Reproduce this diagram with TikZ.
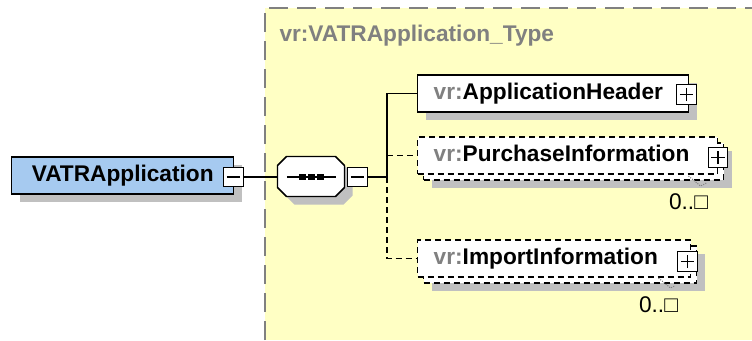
\documentclass[tikz,border=0pt]{standalone}
\usepackage{fontspec}
\setmainfont{Liberation Sans}
\usetikzlibrary{shadows}

\definecolor{schemafill}{RGB}{255,255,196}
\definecolor{rootblue}{RGB}{166,202,240}
\definecolor{shadowgray}{RGB}{192,192,192}
\definecolor{nsgray}{RGB}{128,128,128}

\tikzset{every picture/.style={line width=0.75pt}}

\begin{document}
\begin{tikzpicture}[x=0.75pt,y=0.75pt,yscale=-1,xscale=1,
  boxshadow/.style={drop shadow={shadow xshift=6pt,shadow yshift=-6pt,fill=shadowgray,opacity=1}},
  elem/.style={draw,line width=1.1pt,fill=white,anchor=west,minimum height=27.75pt,inner xsep=12pt,inner ysep=0pt,text height=12.5pt,text depth=3.5pt,align=left,font=\fontsize{17}{20}\selectfont\bfseries},
  optelem/.style={elem,dash pattern=on 4.5pt off 3pt,
    drop shadow={shadow xshift=10.5pt,shadow yshift=-10.5pt,fill=shadowgray,opacity=1},
    copy shadow={shadow xshift=4.5pt,shadow yshift=-4.5pt,draw=black,fill=white,line width=1.1pt,dash pattern=on 4.5pt off 3pt}},
  pmbox/.style={draw,fill=white,line width=0.9pt,minimum size=14.5pt,inner sep=0pt},
  minus/.style={pmbox,path picture={\draw (path picture bounding box.center) +(-5pt,0) -- +(5pt,0);}},
  plus/.style={pmbox,path picture={\draw (path picture bounding box.center) +(-5pt,0) -- +(5pt,0) +(0,-5pt) -- +(0,5pt);}},
  seqbox/.style={minimum width=50.25pt,minimum height=30pt,inner sep=0pt},
  conn/.style={line width=1.1pt},
  optconn/.style={conn,dash pattern=on 4.5pt off 3pt},
  card/.style={font=\fontsize{17}{20}\selectfont,inner sep=0.75pt},
  leader/.style={nsgray,densely dotted,line width=0.75pt}
]
\useasboundingbox (0,0) rectangle (752,340);

%Shape: complex type area
\fill [schemafill] (265,8) rectangle (752,340);
\draw [nsgray,line width=1.5pt,dash pattern=on 14pt off 7pt] (265,340) -- (265,8) -- (752,8);

% Text Node
\node [anchor=west,inner sep=0.75pt,font=\fontsize{17}{20}\selectfont\bfseries,text=nsgray] (typename) at (278,36) {vr:VATRApplication\_Type};

%Shape: root element
\node [elem,fill=rootblue,boxshadow,text width=142.5pt,align=center] (vatr) at (11,175.5) {VATRApplication};
\node [minus] (vatrminus) at (233.5,177) {};

%Shape: sequence compositor
\node [seqbox] (seq) at (311.5,177) {};
\draw [conn,fill=white,boxshadow] (seq.north west) ++(9,0) -- ++(49,0) -- ++(9,9) -- ++(0,22) -- ++(-9,9) -- ++(-49,0) -- ++(-9,-9) -- ++(0,-22) -- cycle;
\draw [conn] ([xshift=-18.4pt]seq.center) -- ([xshift=18.4pt]seq.center);
\foreach \d in {-6.75,0,6.75}
  \fill ([xshift=\d pt]seq.center) +(-2.6pt,-1.9pt) rectangle +(2.6pt,1.9pt);
\node [minus] (seqminus) at (357.5,177) {};
\coordinate (fork) at (387,177);

%Shape: child elements
\node [elem,boxshadow,text width=179.25pt] (header) at (417,93.5) {{\color{nsgray}vr:}ApplicationHeader};
\node [plus] (headerplus) at (686.5,94.5) {};

\node [optelem,text width=201pt] (purchase) at (417,155.5) {{\color{nsgray}vr:}PurchaseInformation};
\node [plus] (purchaseplus) at (718,157.5) {};

\node [optelem,text width=180.75pt] (import) at (417,258.5) {{\color{nsgray}vr:}ImportInformation};
\node [plus] (importplus) at (687.5,261.5) {};

% Text Node
\node [card] (card1) at (688.5,202) {0..□};
\draw [leader] (card1) ++(0,-26) -- ++(12,10) -- ++(6,-3);
% Text Node
\node [card] (card2) at (658.5,305) {0..□};
\draw [leader] (card2) ++(0,-27) -- ++(12,10) -- ++(4,-2);

%Straight Lines
\draw [conn] (vatrminus) -- (seq);
\draw [conn] (seqminus) -- (fork);
\draw [conn] (fork) |- (header.west);
\draw [optconn] (fork |- purchase.west) -- (purchase.west);
\draw [optconn] (fork) |- (import.west);

\end{tikzpicture}
\end{document}
